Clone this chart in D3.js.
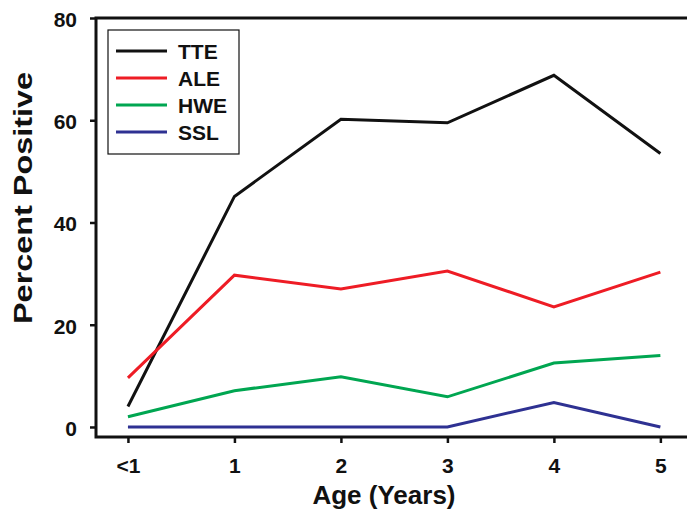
<!DOCTYPE html>
<html>
<head>
<meta charset="utf-8">
<script src="https://cdn.jsdelivr.net/npm/d3@7"></script>
<style>
  body { margin: 0; background: #fff; }
  svg text { font-family: "Liberation Sans", Arial, sans-serif; font-weight: bold; fill: #111; }
</style>
</head>
<body>
<svg id="chart" width="687" height="509"></svg>
<script>
// chart data
const ageLabels = ['<1', '1', '2', '3', '4', '5'];
const yTicks = [0, 20, 40, 60, 80];
const seriesNames = ['TTE', 'ALE', 'HWE', 'SSL'];
const seriesColors = ['#111111', '#ee1c25', '#00a651', '#2e3192'];
const tteValues = [4.0, 45.1, 60.2, 59.5, 68.8, 53.5];
const aleValues = [9.6, 29.7, 27.0, 30.5, 23.5, 30.3];
const hweValues = [2.0, 7.1, 9.8, 5.9, 12.5, 14.0];
const sslValues = [0, 0, 0, 0, 4.8, 0];

const allSeries = [tteValues, aleValues, hweValues, sslValues];

const svg = d3.select('#chart');
const plotLeft = 96, plotRight = 687, plotTop = 18, plotBottom = 437;

// x index scale, a little padding on each side of the categories
const x = d3.scaleLinear().domain([-0.3, 5.25]).range([plotLeft, plotRight]);
const y = d3.scaleLinear().domain([-1.96, 80]).range([plotBottom, plotTop]);

// frame
svg.append('rect')
    .attr('x', plotLeft).attr('y', plotTop)
    .attr('width', plotRight - plotLeft + 3).attr('height', plotBottom - plotTop)
    .attr('fill', 'none').attr('stroke', '#111').attr('stroke-width', 3);

// y axis
const yAxis = svg.append('g')
    .attr('transform', `translate(${plotLeft},0)`)
    .call(d3.axisLeft(y).tickValues(yTicks).tickSize(6).tickPadding(13));
yAxis.select('.domain').remove();
yAxis.selectAll('.tick line').attr('stroke', '#111').attr('stroke-width', 2.5);
yAxis.selectAll('.tick text').style('font-size', '21px').attr('dy', '0.4em');

// x axis
const xAxis = svg.append('g')
    .attr('transform', `translate(0,${plotBottom})`)
    .call(d3.axisBottom(x).tickValues(d3.range(ageLabels.length))
        .tickFormat(i => ageLabels[i]).tickSize(6).tickPadding(15));
xAxis.select('.domain').remove();
xAxis.selectAll('.tick line').attr('stroke', '#111').attr('stroke-width', 2.5);
xAxis.selectAll('.tick text').style('font-size', '21px');

// axis titles
svg.append('text')
    .attr('x', 384).attr('y', 504)
    .attr('text-anchor', 'middle')
    .style('font-size', '26px')
    .text('Age (Years)');

// the y title is drawn taller than its width in the original
svg.append('text')
    .attr('transform', 'translate(32,198) rotate(-90)')
    .attr('text-anchor', 'middle')
    .attr('textLength', 252)
    .attr('lengthAdjust', 'spacingAndGlyphs')
    .style('font-size', '26px')
    .text('Percent Positive');

// series lines
const line = d3.line()
    .x((d, i) => x(i))
    .y(d => y(d));

svg.selectAll('.series')
    .data(allSeries)
    .join('path')
    .attr('class', 'series')
    .attr('d', line)
    .attr('fill', 'none')
    .attr('stroke', (d, i) => seriesColors[i])
    .attr('stroke-width', 3)
    .attr('stroke-linejoin', 'miter');

// legend
const legend = svg.append('g');
legend.append('rect')
    .attr('x', 108).attr('y', 30)
    .attr('width', 131).attr('height', 124)
    .attr('fill', '#fff').attr('stroke', '#111').attr('stroke-width', 1.2);

const items = legend.selectAll('.item')
    .data(seriesNames)
    .join('g')
    .attr('class', 'item')
    .attr('transform', (d, i) => `translate(0,${51 + i * 27})`);

items.append('line')
    .attr('x1', 116).attr('x2', 167)
    .attr('stroke', (d, i) => seriesColors[i])
    .attr('stroke-width', 3);

items.append('text')
    .attr('x', 178).attr('dy', '0.36em')
    .style('font-size', '21px')
    .text(d => d);
</script>
</body>
</html>
